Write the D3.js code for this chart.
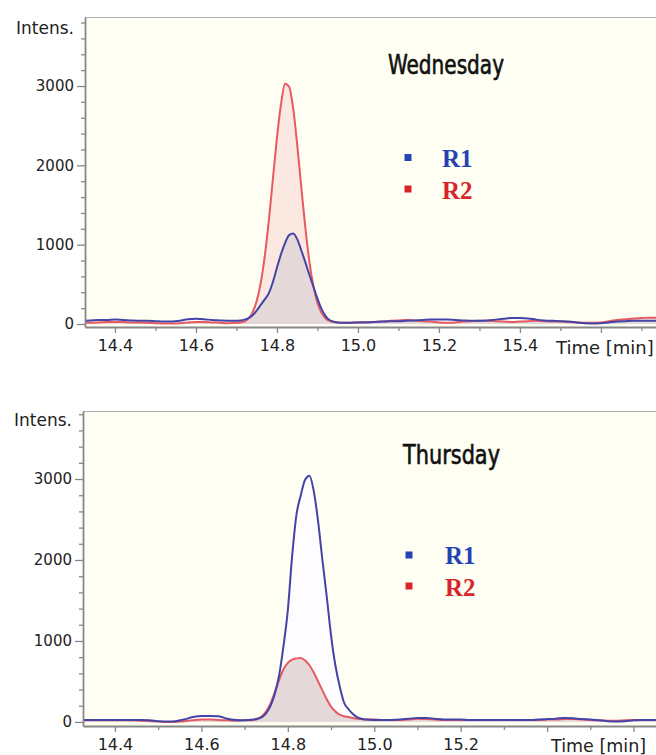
<!DOCTYPE html>
<html><head><meta charset="utf-8">
<script src="https://cdn.jsdelivr.net/npm/d3@7"></script>
<style>body{margin:0;background:#fff} svg{display:block}</style>
</head><body>
<svg id="c" width="656" height="755"></svg>
<script>
// ---------- DATA ----------
const times = [
  14.32,14.34,14.36,14.38,14.40,14.42,14.44,14.46,14.48,14.50,14.52,14.54,14.56,14.58,14.60,14.62,14.64,14.66,14.68,
  14.70,14.71,14.72,14.73,14.74,14.75,14.76,14.77,14.78,14.79,14.80,14.81,14.82,14.83,14.84,14.85,14.86,14.87,14.88,14.89,14.90,14.91,14.92,14.93,14.94,14.95,14.96,14.97,14.98,
  15.00,15.02,15.04,15.06,15.08,15.10,15.12,15.14,15.16,15.18,15.20,15.22,15.24,15.26,15.28,15.30,15.32,15.34,15.36,15.38,
  15.40,15.42,15.44,15.46,15.48,15.50,15.52,15.54,15.56,15.58,15.60,15.62,15.64,15.66,15.68,15.70,15.72,15.74
];
const seriesNames = ["R1", "R2"];
const panelTitles = ["Wednesday", "Thursday"];

const wedR1 = [
  40,45,50,50,55,50,45,40,40,35,30,30,40,60,65,60,50,45,40,
  40,45,55,75,110,170,240,310,390,530,710,880,1020,1120,1140,1070,930,780,620,470,320,190,100,50,30,20,15,15,15,
  20,20,25,30,35,35,40,45,50,55,55,55,50,45,40,40,45,55,65,75,
  75,70,55,45,40,35,30,20,10,5,10,20,30,35,40,40,40,40
];
const wedR2 = [
  20,15,20,25,25,25,20,20,15,10,5,5,10,20,25,25,20,15,10,
  15,20,30,70,150,290,520,860,1310,1830,2350,2770,3030,2990,2720,2260,1730,1220,790,480,265,140,70,40,25,20,15,15,15,
  20,25,25,30,40,45,50,45,35,30,20,15,20,30,35,40,40,35,30,25,
  30,35,40,35,30,30,25,20,15,15,20,35,50,60,70,75,80,80
];
const thuR1 = [
  25,25,25,25,25,25,25,25,20,10,5,10,30,60,75,75,70,40,25,
  20,25,30,40,60,110,200,350,580,940,1380,2050,2560,2800,2990,3040,2850,2480,2000,1550,1070,700,440,240,160,100,60,40,30,
  25,25,25,30,40,50,50,40,30,30,30,25,25,25,25,25,25,25,25,30,
  35,40,50,45,35,30,20,10,5,10,20,25,25,25,25,25,25,25
];
const thuR2 = [
  20,20,20,20,20,20,20,15,10,5,0,0,10,20,30,30,25,20,15,
  20,20,25,40,70,130,230,370,520,650,730,770,785,790,760,700,610,500,390,280,190,130,90,70,60,50,40,35,30,
  30,25,25,25,30,40,35,30,25,25,25,25,25,25,25,25,25,25,25,25,
  30,30,35,35,30,25,20,15,15,20,25,25,25,25,25,25,25,25
];
const wedXLabels = [14.4, 14.6, 14.8, 15.0, 15.2, 15.4];
const thuXLabels = [14.4, 14.6, 14.8, 15.0, 15.2];
const yLabels = [0, 1000, 2000, 3000];
const xAxisTitle = "Time [min]";
const yAxisTitle = "Intens.";

// ---------- LAYOUT ----------
const panels = [
  { title: panelTitles[0], r1: wedR1, r2: wedR2, xLabels: wedXLabels,
    box: {l: 85, t: 17, r: 656, b: 327}, xDom: [14.326, 15.736], yDom: [-38, 3870],
    ylab: {x: 74, y: 34}, xTitle: {x: 556, y: 354, fs: 18},
    titlePos: {x: 388, y: 74, w: 116},
    leg: {sx: 408, s1: 157.5, s2: 189, tx: 442, t1: 167, t2: 199} },
  { title: panelTitles[1], r1: thuR1, r2: thuR2, xLabels: thuXLabels,
    box: {l: 83, t: 411, r: 656, b: 726}, xDom: [14.326, 15.652], yDom: [-50, 3840],
    ylab: {x: 72, y: 426}, xTitle: {x: 551, y: 752, fs: 17.5},
    titlePos: {x: 403, y: 464, w: 97},
    leg: {sx: 409, s1: 555, s2: 586, tx: 445, t1: 564, t2: 596} }
];

const C = {
  bg: "#fefef2", blue: "#4444a8", red: "#e65a60",
  fillRed: "#fbe8e1", fillBlue: "#fdfdff", fillBoth: "#e4d8d8",
  axis: "#888888", text: "#222222",
  legBlue: "#2442b4", legRed: "#d8242a"
};

const svg = d3.select("#c");

panels.forEach((p, pi) => {
  const b = p.box;
  const x = d3.scaleLinear().domain(p.xDom).range([b.l, b.r]);
  const y = d3.scaleLinear().domain(p.yDom).range([b.b, b.t]);
  const g = svg.append("g");

  g.append("rect").attr("x", b.l).attr("y", b.t).attr("width", b.r - b.l).attr("height", b.b - b.t)
    .attr("fill", C.bg);

  const cid = "clip" + pi;
  svg.append("clipPath").attr("id", cid).append("rect")
    .attr("x", b.l).attr("y", b.t).attr("width", b.r - b.l).attr("height", b.b - b.t);

  const data = times.map((t, i) => ({t, a: p.r1[i], b: p.r2[i]}));
  const plot = g.append("g").attr("clip-path", `url(#${cid})`);
  const area = acc => d3.area().x(d => x(d.t)).y0(y(0)).y1(d => y(acc(d))).curve(d3.curveMonotoneX);
  const line = acc => d3.line().x(d => x(d.t)).y(d => y(acc(d))).curve(d3.curveMonotoneX);

  plot.append("path").datum(data).attr("d", area(d => d.a)).attr("fill", C.fillBlue);
  plot.append("path").datum(data).attr("d", area(d => d.b)).attr("fill", C.fillRed);
  plot.append("path").datum(data).attr("d", area(d => Math.min(d.a, d.b))).attr("fill", C.fillBoth);
  plot.append("path").datum(data).attr("d", line(d => d.b)).attr("fill", "none")
    .attr("stroke", C.red).attr("stroke-width", 2).attr("stroke-linejoin", "round");
  plot.append("path").datum(data).attr("d", line(d => d.a)).attr("fill", "none")
    .attr("stroke", C.blue).attr("stroke-width", 2).attr("stroke-linejoin", "round");

  // top frame line
  g.append("line").attr("x1", b.l).attr("x2", b.r).attr("y1", b.t + 0.5).attr("y2", b.t + 0.5)
    .attr("stroke", "#b0b0b0").attr("stroke-width", 1);

  // x axis
  const xt = d3.range(143, 158).map(v => v / 10).filter(v => v >= p.xDom[0] && v <= p.xDom[1]);
  const isMajX = v => Math.round(v * 10) % 2 === 0;
  const xa = g.append("g").attr("transform", `translate(0,${b.b})`)
    .call(d3.axisBottom(x).tickValues(xt).tickSizeOuter(0).tickPadding(5)
      .tickFormat(v => p.xLabels.some(l => Math.abs(l - v) < 1e-6) ? v.toFixed(1) : ""));
  xa.selectAll(".tick line").attr("y2", v => isMajX(v) ? 6 : 4).attr("stroke", C.axis).attr("stroke-width", 1.3);
  xa.selectAll(".tick text").attr("font-family", "DejaVu Sans, Verdana, sans-serif")
    .attr("font-size", 16).attr("fill", C.text).attr("y", 13);
  xa.select(".domain").attr("stroke", C.axis).attr("stroke-width", 1.8);

  // y axis
  const yt = d3.range(0, 3801, 200);
  const isMajY = v => v % 1000 === 0;
  const ya = g.append("g").attr("transform", `translate(${b.l},0)`)
    .call(d3.axisLeft(y).tickValues(yt).tickSizeOuter(0).tickPadding(3)
      .tickFormat(v => yLabels.includes(v) ? String(v) : ""));
  ya.selectAll(".tick line").attr("x2", v => isMajY(v) ? -8 : -4).attr("stroke", C.axis).attr("stroke-width", 1.3);
  ya.selectAll(".tick text").attr("x", -11).attr("font-family", "DejaVu Sans, Verdana, sans-serif")
    .attr("font-size", 15).attr("fill", C.text);
  ya.select(".domain").attr("stroke", C.axis).attr("stroke-width", 1.8);

  // axis titles
  g.append("text").attr("x", p.ylab.x).attr("y", p.ylab.y).attr("text-anchor", "end")
    .attr("font-family", "DejaVu Sans, Verdana, sans-serif").attr("font-size", 17).attr("fill", C.text)
    .text(yAxisTitle);
  g.append("text").attr("x", p.xTitle.x).attr("y", p.xTitle.y)
    .attr("font-family", "DejaVu Sans, Verdana, sans-serif").attr("font-size", p.xTitle.fs).attr("fill", C.text)
    .text(xAxisTitle);

  // panel title
  g.append("text").attr("x", p.titlePos.x).attr("y", p.titlePos.y)
    .attr("font-family", "Liberation Sans Narrow, DejaVu Sans Condensed, Arial Narrow, sans-serif")
    .attr("font-stretch", "condensed").attr("font-size", 26).attr("fill", "#111")
    .attr("stroke", "#111").attr("stroke-width", 0.6)
    .attr("textLength", p.titlePos.w).attr("lengthAdjust", "spacingAndGlyphs")
    .text(p.title);

  // legend
  const L = p.leg;
  [[L.s1, L.t1, C.legBlue, seriesNames[0]], [L.s2, L.t2, C.legRed, seriesNames[1]]].forEach(([sy, ty, col, name]) => {
    g.append("rect").attr("x", L.sx - 3.5).attr("y", sy - 3.5).attr("width", 7).attr("height", 7).attr("fill", col);
    g.append("text").attr("x", L.tx).attr("y", ty)
      .attr("font-family", "Liberation Serif, DejaVu Serif, serif").attr("font-weight", "bold")
      .attr("font-size", 25).attr("fill", col).text(name);
  });
});
</script>
</body></html>
